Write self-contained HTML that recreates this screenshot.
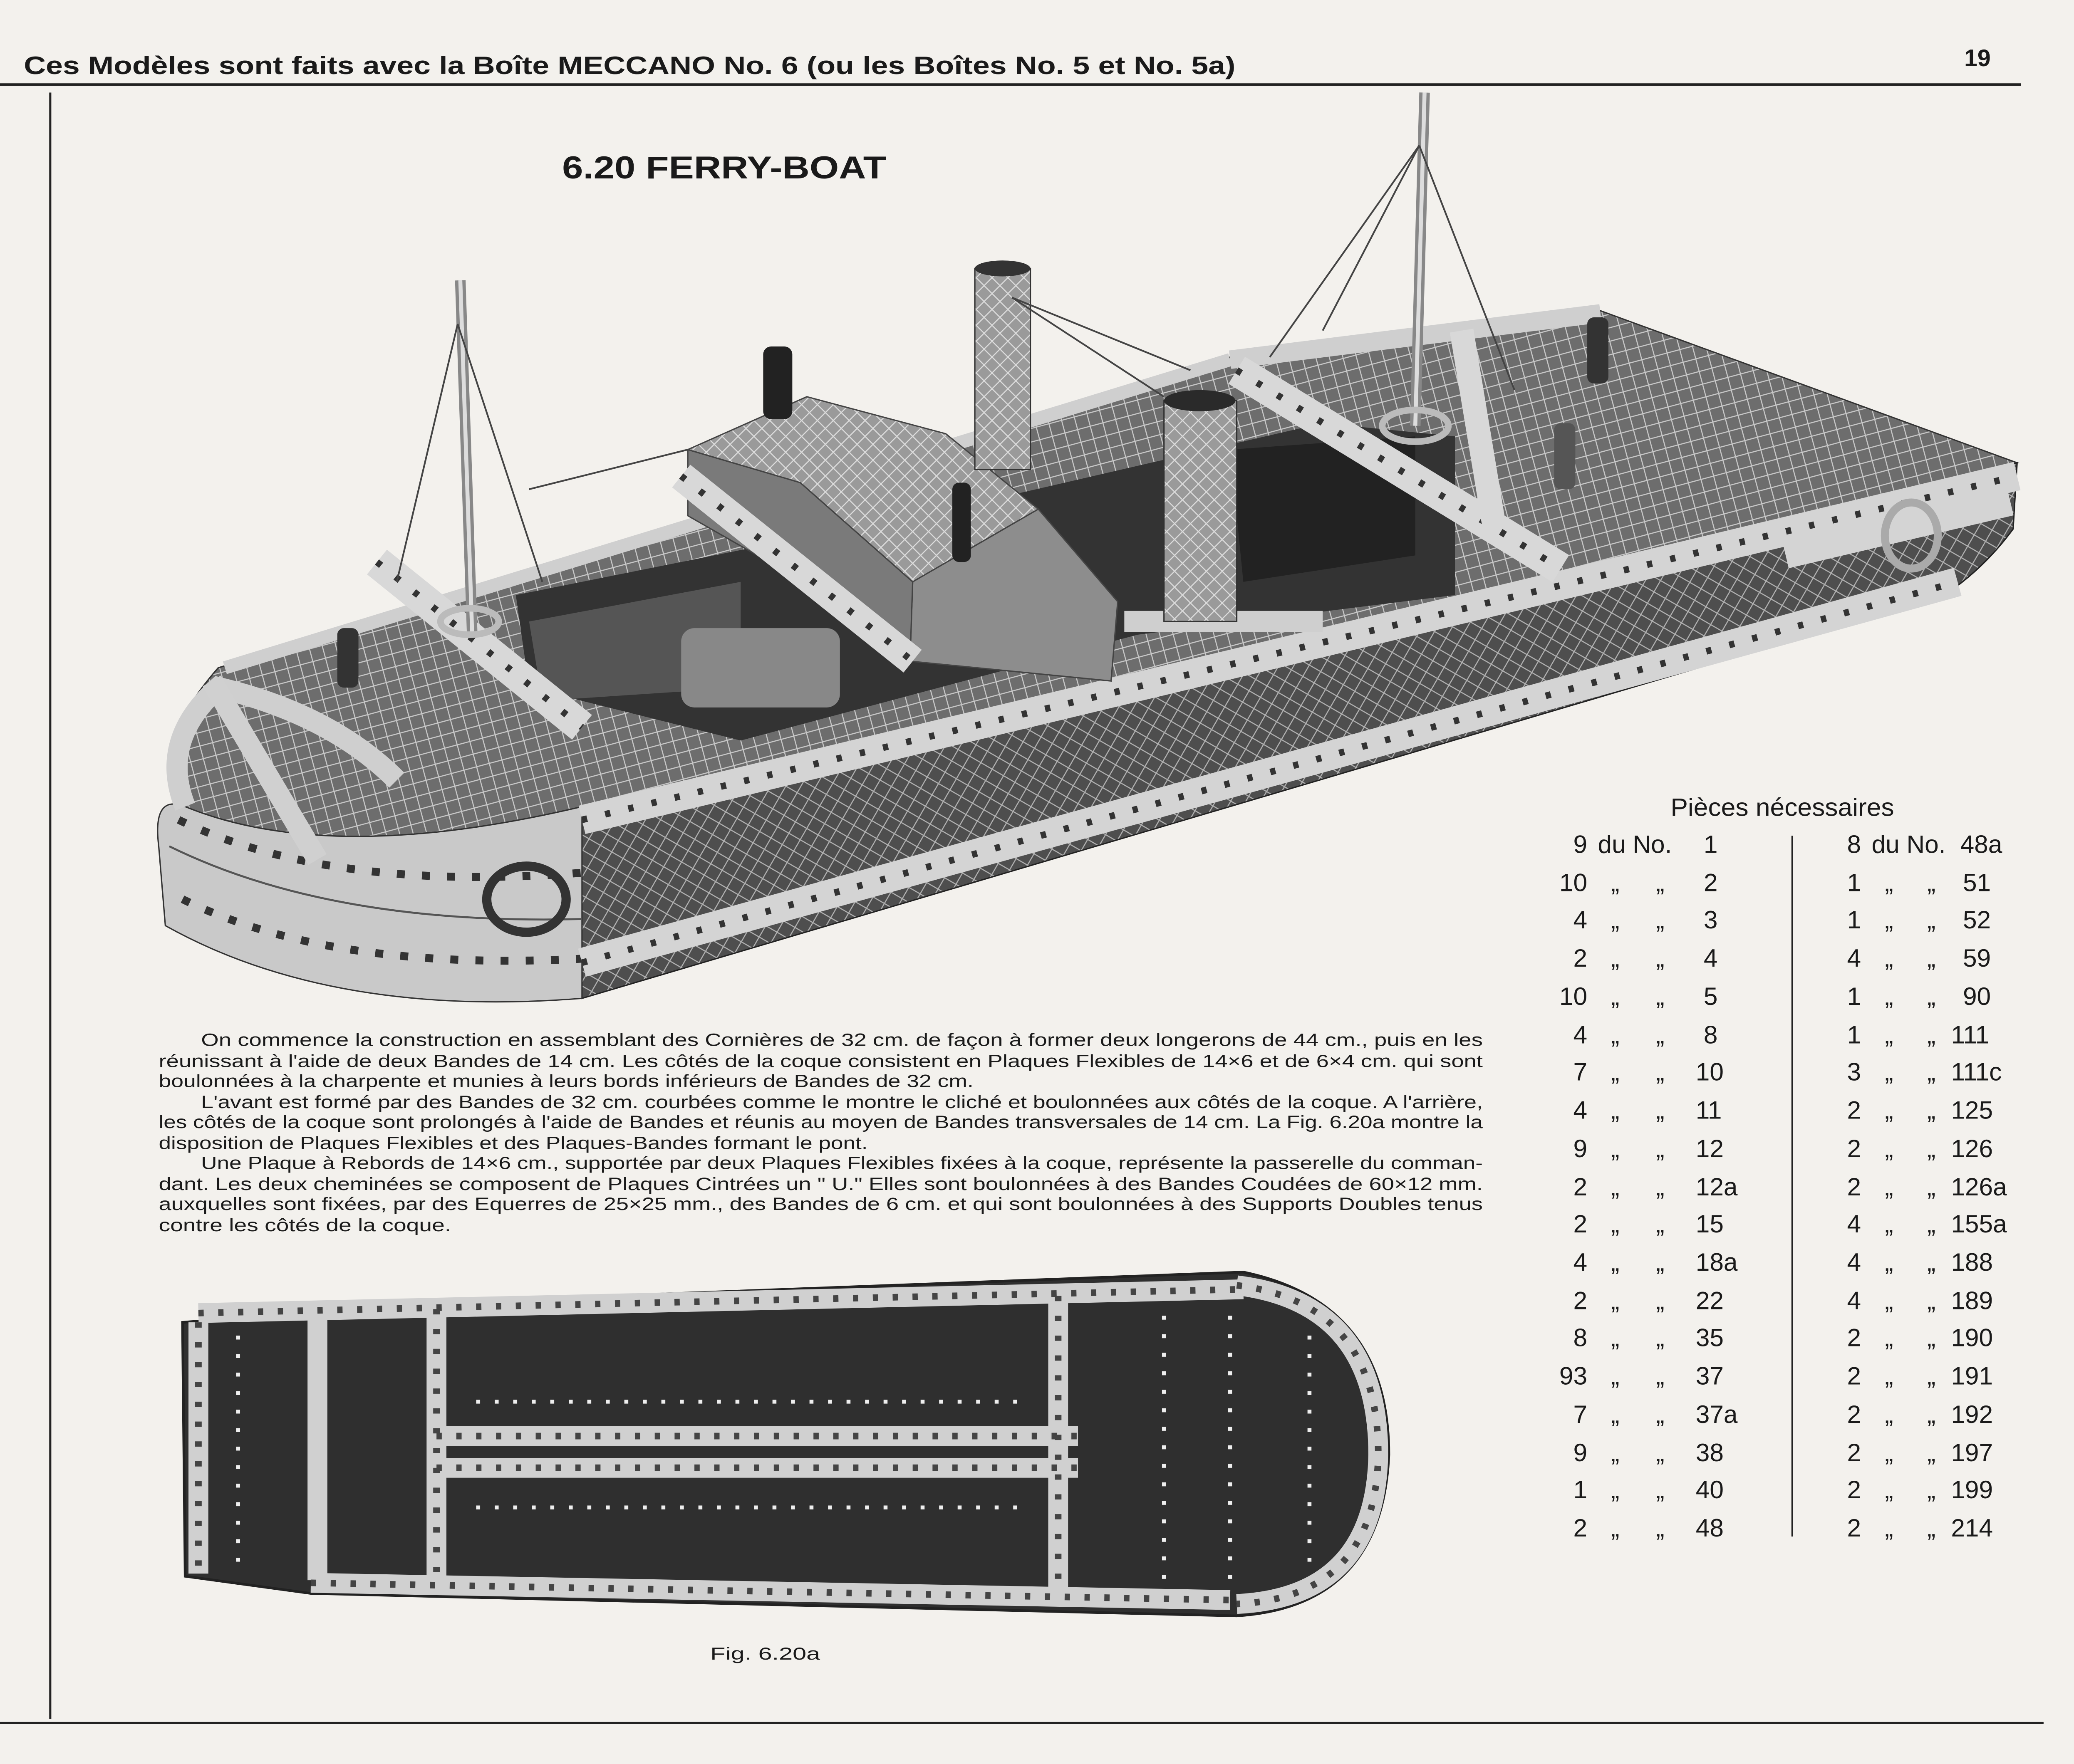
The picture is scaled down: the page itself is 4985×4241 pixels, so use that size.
<!DOCTYPE html>
<html><head><meta charset="utf-8">
<style>
html,body{margin:0;padding:0;background:#f3f1ed;}
svg{display:block;}
text{font-family:"Liberation Sans",sans-serif;fill:#1a1a1a;}
</style></head>
<body>
<svg width="4985" height="4241" viewBox="0 0 1568 1334" preserveAspectRatio="none" xmlns="http://www.w3.org/2000/svg">
<defs>
<pattern id="hatch" width="14" height="14" patternUnits="userSpaceOnUse" patternTransform="rotate(30)">
<rect width="14" height="14" fill="#6d6d6d"/>
<path d="M0,0 L14,14 M14,0 L0,14" stroke="#c8c8c8" stroke-width="0.8"/>
</pattern>
<pattern id="hatchD" width="14" height="14" patternUnits="userSpaceOnUse" patternTransform="rotate(-15)">
<rect width="14" height="14" fill="#4e4e4e"/>
<path d="M0,0 L14,14 M14,0 L0,14" stroke="#b0b0b0" stroke-width="0.8"/>
</pattern>
<pattern id="hatchL" width="12" height="12" patternUnits="userSpaceOnUse">
<rect width="12" height="12" fill="#9a9a9a"/>
<path d="M0,0 L12,12 M12,0 L0,12" stroke="#dcdcdc" stroke-width="0.8"/>
</pattern>
</defs>
<rect width="1568" height="1334" fill="#f3f1ed"/>

<!-- header -->
<text x="18" y="56" font-size="19" font-weight="bold" textLength="916" lengthAdjust="spacingAndGlyphs">Ces Modèles sont faits avec la Boîte MECCANO No. 6 (ou les Boîtes No. 5 et No. 5a)</text>
<text x="1485" y="50" font-size="18" font-weight="bold">19</text>
<line x1="0" y1="64" x2="1528" y2="64" stroke="#222" stroke-width="2"/>
<line x1="38" y1="70" x2="38" y2="1300" stroke="#222" stroke-width="1.6"/>
<line x1="0" y1="1303" x2="1545" y2="1303" stroke="#222" stroke-width="1.6"/>

<text x="425" y="135" font-size="24" font-weight="bold" textLength="245" lengthAdjust="spacingAndGlyphs">6.20  FERRY-BOAT</text>

<!-- BOAT -->
<g>
<!-- deck -->
<path d="M165,505 L930,270 L1210,235 L1525,350 L440,610 Q250,655 140,610 Q108,570 165,505 Z" fill="url(#hatch)" stroke="#333" stroke-width="1"/>
<!-- side face -->
<path d="M440,610 L1525,350 L1522,400 Q1500,430 1470,450 L440,755 Z" fill="url(#hatchD)" stroke="#222" stroke-width="1"/>
<!-- rounded front face -->
<path d="M440,610 Q250,655 140,610 Q115,600 120,640 L125,700 Q250,770 440,755 Z" fill="#c9c9c9" stroke="#333" stroke-width="1"/>
<!-- bands on round end -->
<path d="M128,640 Q250,700 440,695" fill="none" stroke="#555" stroke-width="1.5"/>
<path d="M135,620 Q250,675 440,660" fill="none" stroke="#333" stroke-width="6" stroke-dasharray="6 13"/>
<path d="M138,680 Q250,735 440,725" fill="none" stroke="#333" stroke-width="6" stroke-dasharray="6 13"/>
<!-- side bands -->
<line x1="440" y1="620" x2="1525" y2="360" stroke="#d4d4d4" stroke-width="22"/>
<line x1="440" y1="620" x2="1525" y2="360" stroke="#333" stroke-width="5" stroke-dasharray="4 14"/>
<line x1="440" y1="728" x2="1480" y2="440" stroke="#d4d4d4" stroke-width="22"/>
<line x1="440" y1="728" x2="1480" y2="440" stroke="#333" stroke-width="5" stroke-dasharray="4 14"/>
<line x1="1350" y1="420" x2="1520" y2="380" stroke="#d4d4d4" stroke-width="20"/>
<!-- deck edge bands -->
<line x1="170" y1="505" x2="930" y2="272" stroke="#cfcfcf" stroke-width="10"/>
<line x1="930" y1="272" x2="1210" y2="237" stroke="#cfcfcf" stroke-width="14"/>
<path d="M140,610 Q120,560 165,520 Q250,540 300,590" fill="none" stroke="#cfcfcf" stroke-width="16"/>
<!-- dark cargo area -->
<path d="M390,450 L740,380 L1000,320 L1100,330 L1100,450 L860,480 L560,560 L400,520 Z" fill="#333"/>
<path d="M400,470 L560,440 L560,520 L410,530 Z" fill="#555"/>
<path d="M930,340 L1070,330 L1070,420 L940,440 Z" fill="#222"/>
<rect x="515" y="475" width="120" height="60" rx="10" fill="#888"/>
<!-- bridge box -->
<path d="M520,340 L610,300 L715,328 L785,385 L690,440 L605,365 Z" fill="url(#hatchL)" stroke="#444" stroke-width="1"/>
<path d="M690,440 L785,385 L845,455 L840,515 L688,500 Z" fill="#8d8d8d" stroke="#444"/>
<path d="M520,340 L605,365 L690,440 L688,500 L590,430 L520,390 Z" fill="#7a7a7a" stroke="#444"/>
<!-- cross beams -->
<line x1="285" y1="425" x2="440" y2="550" stroke="#d8d8d8" stroke-width="24"/>
<line x1="285" y1="425" x2="440" y2="550" stroke="#333" stroke-width="5" stroke-dasharray="4 14"/>
<line x1="515" y1="360" x2="690" y2="500" stroke="#d8d8d8" stroke-width="22"/>
<line x1="515" y1="360" x2="690" y2="500" stroke="#333" stroke-width="5" stroke-dasharray="4 14"/>
<line x1="935" y1="280" x2="1180" y2="430" stroke="#d8d8d8" stroke-width="24"/>
<line x1="935" y1="280" x2="1180" y2="430" stroke="#333" stroke-width="5" stroke-dasharray="4 14"/>
<line x1="1105" y1="250" x2="1130" y2="400" stroke="#d8d8d8" stroke-width="18"/>
<line x1="850" y1="470" x2="1000" y2="470" stroke="#cfcfcf" stroke-width="16"/>
<line x1="160" y1="515" x2="240" y2="650" stroke="#d0d0d0" stroke-width="16"/>
<!-- funnels -->
<rect x="737" y="203" width="42" height="152" fill="url(#hatchL)" stroke="#333"/>
<ellipse cx="758" cy="203" rx="21" ry="6" fill="#333"/>
<rect x="880" y="303" width="55" height="167" fill="url(#hatchL)" stroke="#333"/>
<ellipse cx="907" cy="303" rx="27" ry="8" fill="#2a2a2a"/>
<!-- masts -->
<line x1="348" y1="212" x2="357" y2="480" stroke="#888" stroke-width="8"/>
<line x1="348" y1="212" x2="357" y2="480" stroke="#ddd" stroke-width="3"/>
<line x1="1077" y1="70" x2="1070" y2="322" stroke="#888" stroke-width="8"/>
<line x1="1077" y1="70" x2="1070" y2="322" stroke="#ddd" stroke-width="3"/>
<ellipse cx="1070" cy="322" rx="25" ry="12" fill="none" stroke="#bbb" stroke-width="5"/>
<ellipse cx="355" cy="470" rx="22" ry="10" fill="none" stroke="#bbb" stroke-width="5"/>
<g stroke="#444" stroke-width="1.3">
<line x1="346" y1="245" x2="300" y2="440"/><line x1="346" y1="245" x2="410" y2="440"/>
<line x1="1073" y1="110" x2="960" y2="270"/><line x1="1073" y1="110" x2="1145" y2="295"/>
<line x1="1073" y1="110" x2="1000" y2="250"/>
<line x1="765" y1="225" x2="880" y2="300"/><line x1="765" y1="225" x2="900" y2="280"/>
<line x1="400" y1="370" x2="520" y2="340"/>
</g>
<!-- rings -->
<ellipse cx="398" cy="680" rx="30" ry="25" fill="none" stroke="#333" stroke-width="7"/>
<ellipse cx="1445" cy="405" rx="20" ry="25" fill="none" stroke="#aaa" stroke-width="6"/>
<!-- figures -->
<rect x="577" y="262" width="22" height="55" rx="6" fill="#222"/>
<rect x="720" y="365" width="14" height="60" rx="5" fill="#222"/>
<rect x="255" y="475" width="16" height="45" rx="5" fill="#333"/>
<rect x="1200" y="240" width="16" height="50" rx="5" fill="#333"/>
<rect x="1175" y="320" width="16" height="50" rx="5" fill="#555"/>
</g>

<!-- paragraph -->
<g font-size="13.5" lengthAdjust="spacingAndGlyphs">
<text x="152" y="791" textLength="969" lengthAdjust="spacingAndGlyphs">On commence la construction en assemblant des Cornières de 32 cm. de façon à former deux longerons de 44 cm., puis en les</text>
<text x="120" y="807" textLength="1001" lengthAdjust="spacingAndGlyphs">réunissant à l'aide de deux Bandes de 14 cm.   Les côtés de la coque consistent en Plaques Flexibles de 14×6 et de 6×4 cm. qui sont</text>
<text x="120" y="822" textLength="616" lengthAdjust="spacingAndGlyphs">boulonnées à la charpente et munies à leurs bords inférieurs de Bandes de 32 cm.</text>
<text x="152" y="838" textLength="969" lengthAdjust="spacingAndGlyphs">L'avant est formé par des Bandes de 32 cm. courbées comme le montre le cliché et boulonnées aux côtés de la coque.  A l'arrière,</text>
<text x="120" y="853" textLength="1001" lengthAdjust="spacingAndGlyphs">les côtés de la coque sont prolongés à l'aide de Bandes et réunis au moyen de Bandes transversales de 14 cm.   La Fig. 6.20a montre la</text>
<text x="120" y="869" textLength="536" lengthAdjust="spacingAndGlyphs">disposition de Plaques Flexibles et des Plaques-Bandes formant le pont.</text>
<text x="152" y="884" textLength="969" lengthAdjust="spacingAndGlyphs">Une Plaque à Rebords de 14×6 cm., supportée par deux Plaques Flexibles fixées à la coque, représente la passerelle du comman-</text>
<text x="120" y="900" textLength="1001" lengthAdjust="spacingAndGlyphs">dant.  Les deux cheminées se composent de Plaques Cintrées un " U."  Elles sont boulonnées à des Bandes Coudées de 60×12 mm.</text>
<text x="120" y="915" textLength="1001" lengthAdjust="spacingAndGlyphs">auxquelles sont fixées, par des Equerres de 25×25 mm., des Bandes de 6 cm. et qui sont boulonnées à des Supports Doubles tenus</text>
<text x="120" y="931" textLength="221" lengthAdjust="spacingAndGlyphs">contre les côtés de la coque.</text>
</g>

<!-- plan figure -->
<g>
<path d="M138,1000 L330,985 L940,962 Q1050,985 1050,1100 Q1045,1215 935,1222 L235,1205 L140,1192 Z" fill="#2f2f2f" stroke="#222" stroke-width="2"/>
<g stroke="#d0d0d0" stroke-width="15" fill="none">
<line x1="150" y1="1000" x2="150" y2="1190"/>
<line x1="150" y1="993" x2="940" y2="975"/>
<line x1="235" y1="1197" x2="930" y2="1210"/>
<line x1="330" y1="990" x2="330" y2="1195"/>
<line x1="800" y1="980" x2="800" y2="1200"/>
<line x1="240" y1="990" x2="240" y2="1195"/>
<line x1="330" y1="1086" x2="815" y2="1086"/>
<line x1="330" y1="1110" x2="815" y2="1110"/>
<path d="M935,972 Q1042,985 1042,1100 Q1040,1208 935,1213"/>
</g>
<g stroke="#444" stroke-width="5" fill="none" stroke-dasharray="4 11">
<line x1="150" y1="1000" x2="150" y2="1190"/>
<line x1="150" y1="993" x2="940" y2="975"/>
<line x1="235" y1="1197" x2="930" y2="1210"/>
<line x1="330" y1="990" x2="330" y2="1195"/>
<line x1="800" y1="980" x2="800" y2="1200"/>
<line x1="330" y1="1086" x2="815" y2="1086"/>
<line x1="330" y1="1110" x2="815" y2="1110"/>
<path d="M935,972 Q1042,985 1042,1100 Q1040,1208 935,1213"/>
</g>
<g stroke="#eee" stroke-width="3" fill="none" stroke-dasharray="3 11">
<line x1="180" y1="1010" x2="180" y2="1185"/>
<line x1="880" y1="995" x2="880" y2="1195"/>
<line x1="930" y1="995" x2="930" y2="1195"/>
<line x1="990" y1="1010" x2="990" y2="1190"/>
<line x1="360" y1="1060" x2="780" y2="1060"/>
<line x1="360" y1="1140" x2="780" y2="1140"/>
</g>
</g>
<text x="537" y="1255" font-size="13" textLength="83" lengthAdjust="spacingAndGlyphs">Fig. 6.20a</text>

<!-- parts list -->
<text x="1263" y="617" font-size="19" textLength="169" lengthAdjust="spacingAndGlyphs">Pièces  nécessaires</text>
<line x1="1355" y1="632" x2="1355" y2="1162" stroke="#222" stroke-width="1.3"/>
<g font-size="19">
<!-- left column -->
<g text-anchor="end">
<text x="1200" y="645">9</text><text x="1200" y="674">10</text><text x="1200" y="702">4</text><text x="1200" y="731">2</text><text x="1200" y="760">10</text><text x="1200" y="789">4</text><text x="1200" y="817">7</text><text x="1200" y="846">4</text><text x="1200" y="875">9</text><text x="1200" y="904">2</text><text x="1200" y="932">2</text><text x="1200" y="961">4</text><text x="1200" y="990">2</text><text x="1200" y="1018">8</text><text x="1200" y="1047">93</text><text x="1200" y="1076">7</text><text x="1200" y="1105">9</text><text x="1200" y="1133">1</text><text x="1200" y="1162">2</text>
</g>
<text x="1208" y="645">du No.</text>
<g>
<text x="1218" y="674">„</text><text x="1252" y="674">„</text>
<text x="1218" y="702">„</text><text x="1252" y="702">„</text>
<text x="1218" y="731">„</text><text x="1252" y="731">„</text>
<text x="1218" y="760">„</text><text x="1252" y="760">„</text>
<text x="1218" y="789">„</text><text x="1252" y="789">„</text>
<text x="1218" y="817">„</text><text x="1252" y="817">„</text>
<text x="1218" y="846">„</text><text x="1252" y="846">„</text>
<text x="1218" y="875">„</text><text x="1252" y="875">„</text>
<text x="1218" y="904">„</text><text x="1252" y="904">„</text>
<text x="1218" y="932">„</text><text x="1252" y="932">„</text>
<text x="1218" y="961">„</text><text x="1252" y="961">„</text>
<text x="1218" y="990">„</text><text x="1252" y="990">„</text>
<text x="1218" y="1018">„</text><text x="1252" y="1018">„</text>
<text x="1218" y="1047">„</text><text x="1252" y="1047">„</text>
<text x="1218" y="1076">„</text><text x="1252" y="1076">„</text>
<text x="1218" y="1105">„</text><text x="1252" y="1105">„</text>
<text x="1218" y="1133">„</text><text x="1252" y="1133">„</text>
<text x="1218" y="1162">„</text><text x="1252" y="1162">„</text>
</g>
<g>
<text x="1288" y="645">1</text><text x="1288" y="674">2</text><text x="1288" y="702">3</text><text x="1288" y="731">4</text><text x="1288" y="760">5</text><text x="1288" y="789">8</text><text x="1282" y="817">10</text><text x="1282" y="846">11</text><text x="1282" y="875">12</text><text x="1282" y="904">12a</text><text x="1282" y="932">15</text><text x="1282" y="961">18a</text><text x="1282" y="990">22</text><text x="1282" y="1018">35</text><text x="1282" y="1047">37</text><text x="1282" y="1076">37a</text><text x="1282" y="1105">38</text><text x="1282" y="1133">40</text><text x="1282" y="1162">48</text>
</g>
<!-- right column -->
<g text-anchor="end">
<text x="1407" y="645">8</text><text x="1407" y="674">1</text><text x="1407" y="702">1</text><text x="1407" y="731">4</text><text x="1407" y="760">1</text><text x="1407" y="789">1</text><text x="1407" y="817">3</text><text x="1407" y="846">2</text><text x="1407" y="875">2</text><text x="1407" y="904">2</text><text x="1407" y="932">4</text><text x="1407" y="961">4</text><text x="1407" y="990">4</text><text x="1407" y="1018">2</text><text x="1407" y="1047">2</text><text x="1407" y="1076">2</text><text x="1407" y="1105">2</text><text x="1407" y="1133">2</text><text x="1407" y="1162">2</text>
</g>
<text x="1415" y="645">du No.</text>
<g>
<text x="1425" y="674">„</text><text x="1457" y="674">„</text>
<text x="1425" y="702">„</text><text x="1457" y="702">„</text>
<text x="1425" y="731">„</text><text x="1457" y="731">„</text>
<text x="1425" y="760">„</text><text x="1457" y="760">„</text>
<text x="1425" y="789">„</text><text x="1457" y="789">„</text>
<text x="1425" y="817">„</text><text x="1457" y="817">„</text>
<text x="1425" y="846">„</text><text x="1457" y="846">„</text>
<text x="1425" y="875">„</text><text x="1457" y="875">„</text>
<text x="1425" y="904">„</text><text x="1457" y="904">„</text>
<text x="1425" y="932">„</text><text x="1457" y="932">„</text>
<text x="1425" y="961">„</text><text x="1457" y="961">„</text>
<text x="1425" y="990">„</text><text x="1457" y="990">„</text>
<text x="1425" y="1018">„</text><text x="1457" y="1018">„</text>
<text x="1425" y="1047">„</text><text x="1457" y="1047">„</text>
<text x="1425" y="1076">„</text><text x="1457" y="1076">„</text>
<text x="1425" y="1105">„</text><text x="1457" y="1105">„</text>
<text x="1425" y="1133">„</text><text x="1457" y="1133">„</text>
<text x="1425" y="1162">„</text><text x="1457" y="1162">„</text>
</g>
<g>
<text x="1482" y="645">48a</text><text x="1484" y="674">51</text><text x="1484" y="702">52</text><text x="1484" y="731">59</text><text x="1484" y="760">90</text><text x="1475" y="789">111</text><text x="1475" y="817">111c</text><text x="1475" y="846">125</text><text x="1475" y="875">126</text><text x="1475" y="904">126a</text><text x="1475" y="932">155a</text><text x="1475" y="961">188</text><text x="1475" y="990">189</text><text x="1475" y="1018">190</text><text x="1475" y="1047">191</text><text x="1475" y="1076">192</text><text x="1475" y="1105">197</text><text x="1475" y="1133">199</text><text x="1475" y="1162">214</text>
</g>
</g>
</svg>
</body></html>
